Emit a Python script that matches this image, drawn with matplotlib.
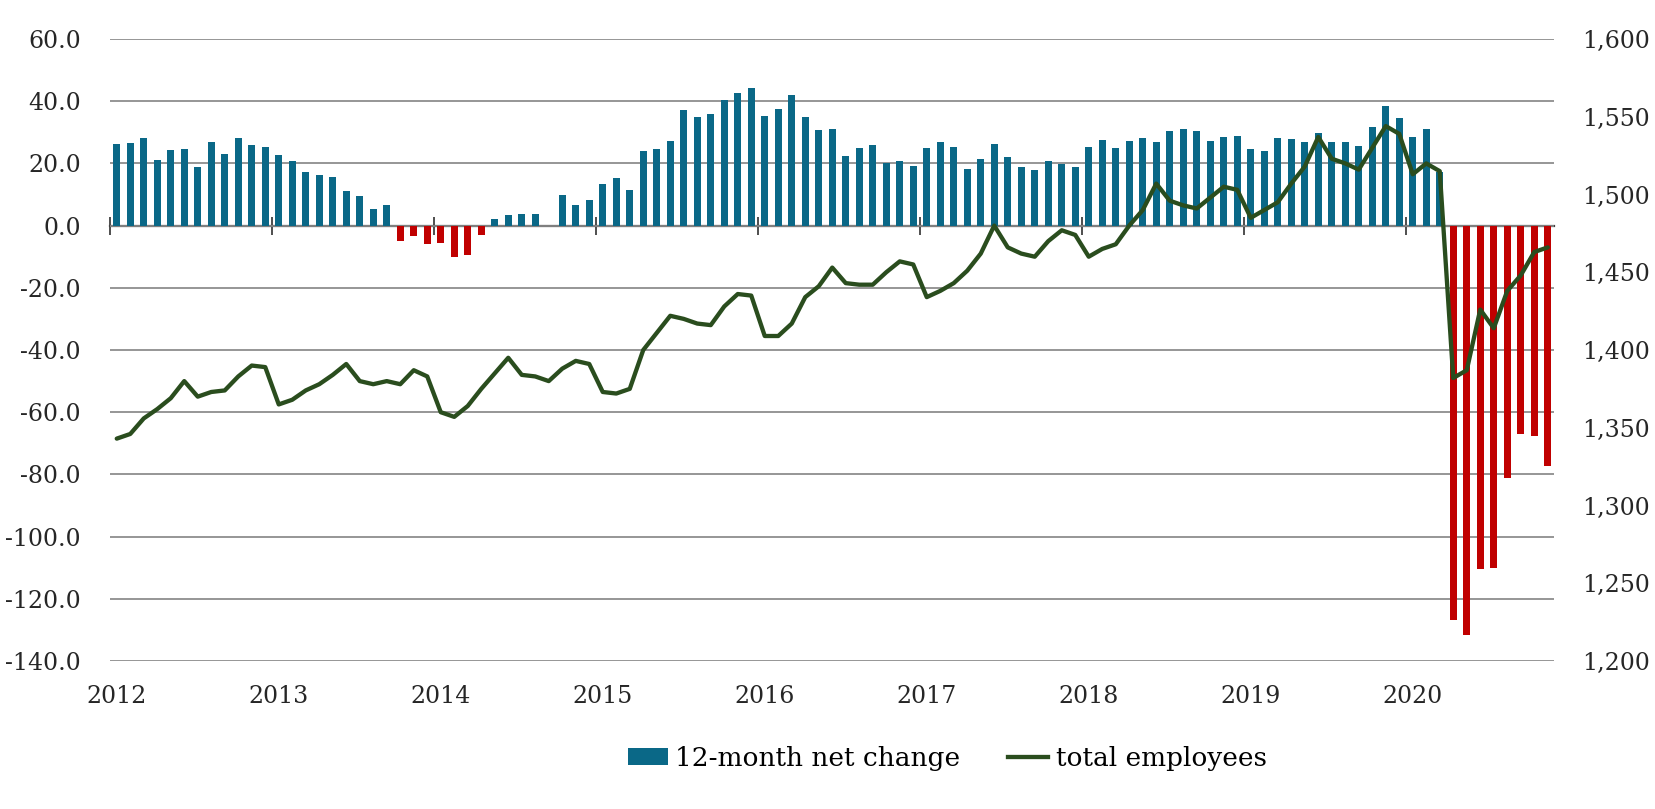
import matplotlib
matplotlib.use("Agg")
import matplotlib.pyplot as plt
import numpy as np
from matplotlib.patches import Patch
from matplotlib.lines import Line2D
from matplotlib.ticker import FuncFormatter

plt.rcParams['font.family'] = ['DejaVu Serif', 'Liberation Serif']
plt.rcParams['axes.unicode_minus'] = False

years = ['2012', '2013', '2014', '2015', '2016', '2017', '2018', '2019', '2020']

net_change = [
    26.3, 26.6, 28.2, 21.1, 24.3, 24.7, 18.9, 26.9, 23.0, 28.2, 25.9, 25.3,   # 2012
    22.7, 20.8, 17.3, 16.3, 15.6, 11.1, 9.5, 5.4, 6.6, -4.9, -3.3, -5.9,      # 2013
    -5.6, -10.1, -9.4, -3.0, 2.1, 3.4, 3.8, 3.8, 0.0, 9.9, 6.6, 8.3,          # 2014
    13.4, 15.3, 11.5, 24.0, 24.7, 27.2, 37.2, 34.9, 35.9, 40.4, 42.7, 44.3,   # 2015
    35.3, 37.5, 42.0, 34.9, 30.8, 31.1, 22.4, 25.0, 25.9, 20.1, 20.8, 19.2,   # 2016
    25.0, 26.9, 25.3, 18.2, 21.4, 26.3, 22.1, 18.9, 17.9, 20.8, 19.8, 18.9,   # 2017
    25.3, 27.5, 25.0, 27.2, 28.2, 26.9, 30.4, 31.1, 30.4, 27.2, 28.5, 28.8,   # 2018
    24.7, 24.0, 28.2, 27.9, 26.9, 29.8, 26.9, 26.9, 25.6, 31.7, 38.5, 34.6,   # 2019
    28.5, 31.1, 17.3, -126.7, -131.5, -110.4, -110.1, -81.3, -66.9, -67.5, -77.4,  # 2020
]

total_employees = [
    1343, 1346, 1356, 1362, 1369, 1380, 1370, 1373, 1374, 1383, 1390, 1389,   # 2012
    1365, 1368, 1374, 1378, 1384, 1391, 1380, 1378, 1380, 1378, 1387, 1383,   # 2013
    1360, 1357, 1364, 1375, 1385, 1395, 1384, 1383, 1380, 1388, 1393, 1391,   # 2014
    1373, 1372, 1375, 1400, 1411, 1422, 1420, 1417, 1416, 1428, 1436, 1435,   # 2015
    1409, 1409, 1417, 1434, 1441, 1453, 1443, 1442, 1442, 1450, 1457, 1455,   # 2016
    1434, 1438, 1443, 1451, 1462, 1480, 1466, 1462, 1460, 1470, 1477, 1474,   # 2017
    1460, 1465, 1468, 1480, 1490, 1507, 1496, 1493, 1491, 1498, 1505, 1503,   # 2018
    1485, 1490, 1495, 1507, 1518, 1537, 1523, 1520, 1516, 1530, 1544, 1539,   # 2019
    1513, 1520, 1515, 1382, 1387, 1426, 1414, 1438, 1448, 1463, 1466,         # 2020
]

left_ticks = [-140, -120, -100, -80, -60, -40, -20, 0, 20, 40, 60]
right_ticks = [1200, 1250, 1300, 1350, 1400, 1450, 1500, 1550, 1600]

TEAL = '#0A6887'
RED = '#C00000'
GREEN = '#2A4D1E'
TXT = '#262626'

n = len(net_change)
x = np.arange(n)
vals = np.array(net_change)
colors = [TEAL if v >= 0 else RED for v in vals]

fig = plt.figure(figsize=(16.56, 8.09), dpi=100)
ax = fig.add_axes([110 / 1656, 148 / 809, 1444.5 / 1656, 622 / 809])

ax.bar(x, vals, width=0.55, color=colors, zorder=2)
ax.set_xlim(-0.5, n - 0.5)
ax.set_ylim(-140, 60)
ax.set_yticks(left_ticks)
ax.yaxis.set_major_formatter(FuncFormatter(lambda v, p: f"{v:.1f}"))
ax.grid(axis='y', color='#898989', linewidth=1.25, zorder=0)
ax.set_axisbelow(True)
for s in ax.spines.values():
    s.set_visible(False)
ax.tick_params(axis='y', length=0, pad=21, labelsize=17, labelcolor=TXT)
ax.set_xticks(np.arange(0, n, 12), labels=years)
ax.tick_params(axis='x', length=0, pad=17, labelsize=17, labelcolor=TXT)

# zero axis line with year boundary tick marks
zero_frac = (0 - (-140)) / 200.0
sec = ax.secondary_xaxis(zero_frac)
bounds = np.arange(-0.5, n, 12)
sec.set_xticks(bounds, labels=[''] * len(bounds))
sec.tick_params(direction='inout', length=13, width=1.3, color='#404040',
                labeltop=False, labelbottom=False)
for s in sec.spines.values():
    s.set_color('#404040')
    s.set_linewidth(1.6)

ax2 = ax.twinx()
ax2.plot(x, total_employees, color=GREEN, linewidth=3.1, solid_joinstyle='round',
         solid_capstyle='round', zorder=3)
ax2.set_ylim(1200, 1600)
ax2.set_yticks(right_ticks)
ax2.yaxis.set_major_formatter(FuncFormatter(lambda v, p: f"{int(v):,}"))
for s in ax2.spines.values():
    s.set_visible(False)
ax2.tick_params(axis='y', length=0, pad=20, labelsize=17, labelcolor=TXT)

handles = [Patch(facecolor=TEAL, edgecolor='none'),
           Line2D([0], [0], color=GREEN, linewidth=3.1)]
fig.legend(handles, ['12-month net change', 'total employees'], ncol=2,
           loc='center', bbox_to_anchor=(0.572, 0.063), frameon=False,
           fontsize=19, handlelength=1.5, handleheight=0.6,
           handletextpad=0.3, columnspacing=1.8)

fig.savefig('out.png', dpi=100)
